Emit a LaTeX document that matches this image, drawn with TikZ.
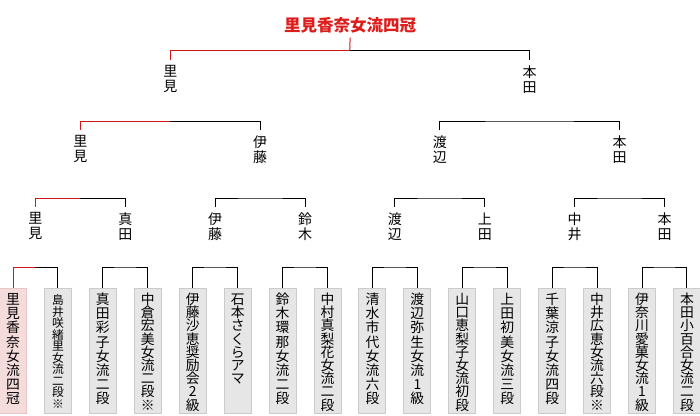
\documentclass[tikz,border=0pt]{standalone}
\usepackage{fontspec}
\setmainfont{Noto Sans CJK JP}
\definecolor{winred}{HTML}{D01818}
\definecolor{titlered}{HTML}{DD1C1C}
\definecolor{leaffill}{HTML}{E6E6E6}
\definecolor{leafdraw}{HTML}{CBCBCB}
\definecolor{winfill}{HTML}{F4DCDC}
\definecolor{windraw}{HTML}{E8C6C6}
\newcommand\leaftxt[3][13.8]{\parbox[t][125pt][t]{27pt}{\centering\fontsize{#1}{#2}\selectfont\rule{0pt}{16pt}#3}}
\tikzset{
  x=1pt, y=-1pt,
  conn/.style={line width=1pt, black},
  win/.style={line width=1pt, winred},
  lbl/.style={anchor=north, inner xsep=0pt, inner ysep=5.5pt, align=center, font=\fontsize{14}{15}\selectfont},
  leaf/.style={anchor=north, draw=leafdraw, fill=leaffill, inner sep=0pt, line width=1pt},
  winleaf/.style={leaf, draw=windraw, fill=winfill},
  ttl/.style={inner xsep=0pt, inner ysep=4pt, text=titlered, font=\bfseries\fontsize{16.5}{18}\selectfont}
}
\begin{document}
\begin{tikzpicture}
\useasboundingbox (0,0) rectangle (700,415);
% title
\node[ttl] (t) at (350,25.5) {里見香奈女流四冠};
% level 1
\node[lbl] (a1) at (170.26,60) {里\\見};
\node[lbl] (a2) at (529.70,60) {本\\田};
% level 2
\node[lbl] (b1) at (80.40,130) {里\\見};
\node[lbl] (b2) at (260.12,130) {伊\\藤};
\node[lbl] (b3) at (439.84,130) {渡\\辺};
\node[lbl] (b4) at (619.56,130) {本\\田};
% level 3
\node[lbl] (c1) at (35.47,207) {里\\見};
\node[lbl] (c2) at (125.33,207) {真\\田};
\node[lbl] (c3) at (215.19,207) {伊\\藤};
\node[lbl] (c4) at (305.05,207) {鈴\\木};
\node[lbl] (c5) at (394.91,207) {渡\\辺};
\node[lbl] (c6) at (484.77,207) {上\\田};
\node[lbl] (c7) at (574.63,207) {中\\井};
\node[lbl] (c8) at (664.49,207) {本\\田};
% leaves
\node[winleaf] (d1) at (13.00,288) {\leaftxt{14.2}{里\\見\\香\\奈\\女\\流\\四\\冠}};
\node[leaf] (d2) at (57.93,288) {\leaftxt[11.8]{11.5}{島\\井\\咲\\緒\\里\\女\\流\\二\\段\\※}};
\node[leaf] (d3) at (102.86,288) {\leaftxt{14.2}{真\\田\\彩\\子\\女\\流\\二\\段}};
\node[leaf] (d4) at (147.79,288) {\leaftxt{13.2}{中\\倉\\宏\\美\\女\\流\\二\\段\\※}};
\node[leaf] (d5) at (192.72,288) {\leaftxt{13.2}{伊\\藤\\沙\\恵\\奨\\励\\会\\2\\級}};
\node[leaf] (d6) at (237.65,288) {\leaftxt{13.2}{石\\本\\さ\\く\\ら\\ア\\マ}};
\node[leaf] (d7) at (282.58,288) {\leaftxt{14.2}{鈴\\木\\環\\那\\女\\流\\二\\段}};
\node[leaf] (d8) at (327.51,288) {\leaftxt{13.2}{中\\村\\真\\梨\\花\\女\\流\\二\\段}};
\node[leaf] (d9) at (372.44,288) {\leaftxt{14.2}{清\\水\\市\\代\\女\\流\\六\\段}};
\node[leaf] (d10) at (417.37,288) {\leaftxt{14.2}{渡\\辺\\弥\\生\\女\\流\\1\\級}};
\node[leaf] (d11) at (462.30,288) {\leaftxt{13.2}{山\\口\\恵\\梨\\子\\女\\流\\初\\段}};
\node[leaf] (d12) at (507.23,288) {\leaftxt{14.2}{上\\田\\初\\美\\女\\流\\三\\段}};
\node[leaf] (d13) at (552.16,288) {\leaftxt{14.2}{千\\葉\\涼\\子\\女\\流\\四\\段}};
\node[leaf] (d14) at (597.09,288) {\leaftxt{13.2}{中\\井\\広\\恵\\女\\流\\六\\段\\※}};
\node[leaf] (d15) at (642.02,288) {\leaftxt{13.2}{伊\\奈\\川\\愛\\菓\\女\\流\\1\\級}};
\node[leaf] (d16) at (686.95,288) {\leaftxt{13.2}{本\\田\\小\\百\\合\\女\\流\\二\\段}};
% junctions
\coordinate (j0) at (349.98,50);
\coordinate (j11) at (a1.north |- 0,121);
\coordinate (j12) at (a2.north |- 0,121);
\coordinate (j21) at (b1.north |- 0,198);
\coordinate (j22) at (b2.north |- 0,198);
\coordinate (j23) at (b3.north |- 0,198);
\coordinate (j24) at (b4.north |- 0,198);
\coordinate (j31) at (c1.north |- 0,267);
\coordinate (j32) at (c2.north |- 0,267);
\coordinate (j33) at (c3.north |- 0,267);
\coordinate (j34) at (c4.north |- 0,267);
\coordinate (j35) at (c5.north |- 0,267);
\coordinate (j36) at (c6.north |- 0,267);
\coordinate (j37) at (c7.north |- 0,267);
\coordinate (j38) at (c8.north |- 0,267);
% connectors
\draw[win] (t.south) -- (j0);
\draw[win] (j0) -| (a1.north);
\draw[conn] (j0) -| (a2.north);
\draw[win] (j11) -| (b1.north);
\draw[conn] (j11) -| (b2.north);
\draw[conn] (b3.north) |- (j12) -| (b4.north);
\draw[win] (j21) -| (c1.north);
\draw[conn] (j21) -| (c2.north);
\draw[conn] (c3.north) |- (j22) -| (c4.north);
\draw[conn] (c5.north) |- (j23) -| (c6.north);
\draw[conn] (c7.north) |- (j24) -| (c8.north);
\draw[win] (j31) -| (d1.north);
\draw[conn] (j31) -| (d2.north);
\draw[conn] (d3.north) |- (j32) -| (d4.north);
\draw[conn] (d5.north) |- (j33) -| (d6.north);
\draw[conn] (d7.north) |- (j34) -| (d8.north);
\draw[conn] (d9.north) |- (j35) -| (d10.north);
\draw[conn] (d11.north) |- (j36) -| (d12.north);
\draw[conn] (d13.north) |- (j37) -| (d14.north);
\draw[conn] (d15.north) |- (j38) -| (d16.north);
\end{tikzpicture}
\end{document}
